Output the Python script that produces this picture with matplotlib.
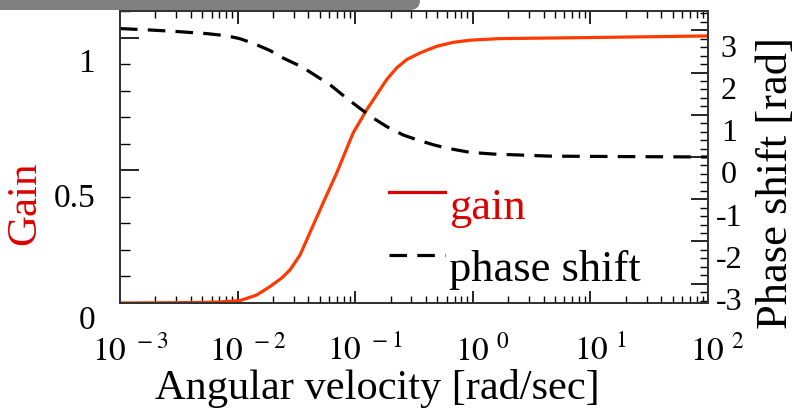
import numpy as np
import matplotlib.pyplot as plt
from matplotlib.lines import Line2D
from matplotlib.legend_handler import HandlerLine2D
from matplotlib.patches import FancyBboxPatch
from matplotlib.ticker import FixedLocator, MultipleLocator, LogLocator, NullFormatter
import matplotlib.transforms as mtransforms

plt.rcParams['font.family'] = ['Liberation Serif', 'DejaVu Serif']
plt.rcParams['mathtext.fontset'] = 'stix'

# angular velocity (log10 of rad/sec) and values
gain_logw = [-3.0, -2.6, -2.3, -2.15, -1.98, -1.838, -1.724, -1.625, -1.554, -1.469,
             -1.412, -1.356, -1.299, -1.229, -1.157, -1.087, -1.016, -0.902, -0.817,
             -0.732, -0.647, -0.562, -0.449, -0.307, -0.166, -0.024, 0.231, 1.0, 2.0]
gain = [0.000, 0.001, 0.002, 0.004, 0.009, 0.030, 0.062, 0.094, 0.125, 0.181,
        0.238, 0.294, 0.351, 0.420, 0.490, 0.566, 0.642, 0.728, 0.785,
        0.842, 0.886, 0.917, 0.942, 0.967, 0.982, 0.990, 0.996, 1.000, 1.006]

phase_logw = [-3.0, -2.77, -2.515, -2.26, -2.093, -1.98, -1.867, -1.724, -1.611,
              -1.497, -1.412, -1.299, -1.214, -1.072, -0.959, -0.846, -0.732, -0.591,
              -0.477, -0.336, -0.222, -0.024, 0.174, 0.66, 1.3, 2.0]
phase = [3.04, 3.01, 2.97, 2.92, 2.87, 2.80, 2.69, 2.52, 2.34,
         2.19, 2.06, 1.86, 1.71, 1.39, 1.15, 0.92, 0.72, 0.52,
         0.41, 0.29, 0.21, 0.11, 0.07, 0.02, 0.01, 0.0]

gain_ticks = [0, 0.5, 1]
gain_ticklabels = ['0', '0.5', '1']
phase_ticks = [-3, -2, -1, 0, 1, 2, 3]
x_decades = [-3, -2, -1, 0, 1, 2]

gain_w = 10.0 ** np.array(gain_logw)
phase_w = 10.0 ** np.array(phase_logw)


class RaisedLine(HandlerLine2D):
    # legend lines sit a bit above the text centre in the original
    def create_artists(self, legend, orig_handle, xdescent, ydescent, width,
                       height, fontsize, trans):
        arts = super().create_artists(legend, orig_handle, xdescent, ydescent,
                                      width, height, fontsize, trans)
        for a in arts:
            a.set_ydata(np.asarray(a.get_ydata()) + 8)
        return arts


fig = plt.figure(figsize=(7.94, 4.19), dpi=100)
ax = fig.add_axes([120 / 794, 116 / 419, 588 / 794, 292 / 419])
ax2 = ax.twinx()

gain_col = '#ff3a00'
ax.plot(gain_w, gain, color=gain_col, lw=2.3, zorder=3)
ax2.plot(phase_w, phase, color='black', lw=2.3, dashes=(5.5, 3.2))

ax.set_xscale('log')
ax.set_xlim(1e-3, 1e2)
ax.set_ylim(0, 1.1)
ax2.set_ylim(-1.1 * np.pi, 1.1 * np.pi)

for sp in ['left', 'right', 'top', 'bottom']:
    ax.spines[sp].set_linewidth(1.4)
    ax.spines[sp].set_color('#333333')
    ax2.spines[sp].set_linewidth(1.4)
    ax2.spines[sp].set_color('#333333')

dpi_tr = fig.dpi_scale_trans

# x ticks
ax.xaxis.set_major_locator(FixedLocator([10.0 ** d for d in x_decades]))
ax.xaxis.set_minor_locator(LogLocator(base=10, subs=np.arange(2, 10), numticks=20))
ax.xaxis.set_minor_formatter(NullFormatter())
ax.set_xticklabels([r'$10^{\;\,%d}$' % d for d in x_decades])
ax.tick_params(axis='x', which='major', direction='in', length=9, width=1.2,
               top=True, labelsize=24, pad=23)
ax.tick_params(axis='x', which='minor', direction='in', length=5, width=1.0, top=True)
for lab in ax.get_xticklabels():
    lab.set_transform(lab.get_transform() +
                      mtransforms.ScaledTranslation(7 / 72, 0, dpi_tr))

# left axis
ax.yaxis.set_major_locator(FixedLocator(gain_ticks))
ax.set_yticklabels(gain_ticklabels)
ax.yaxis.set_minor_locator(MultipleLocator(0.1))
ax.tick_params(axis='y', which='major', direction='in', length=14, width=1.2,
               labelsize=24, pad=18)
ax.tick_params(axis='y', which='minor', direction='in', length=7, width=1.0)
left_offsets = [10, 18, 16]
for lab, off in zip(ax.get_yticklabels(), left_offsets):
    lab.set_transform(lab.get_transform() +
                      mtransforms.ScaledTranslation(0, -off / 72, dpi_tr))

# right axis
ax2.yaxis.set_major_locator(FixedLocator(phase_ticks))
ax2.yaxis.set_minor_locator(MultipleLocator(0.2))
ax2.tick_params(axis='y', which='major', direction='in', length=12, width=1.2,
                labelsize=23, pad=15)
ax2.tick_params(axis='y', which='minor', direction='in', length=6, width=1.0)
ax2.set_yticklabels([str(t) for t in phase_ticks])
for lab in ax2.get_yticklabels():
    lab.set_horizontalalignment('center')
    lab.set_transform(lab.get_transform() +
                      mtransforms.ScaledTranslation(0, -11 / 72, dpi_tr))

ax.set_xlabel('Angular velocity [rad/sec]', fontsize=30.5)
ax.xaxis.set_label_coords(0.437, -0.225)
ax.set_ylabel('Gain', fontsize=31, color='#dd0000')
ax.yaxis.set_label_coords(-0.128, 0.34)
ax2.set_ylabel('Phase shift [rad]', fontsize=32)
ax2.yaxis.set_label_coords(1.082, 0.41)

handles = [Line2D([], [], color='#dd0000', lw=2.3),
           Line2D([], [], color='black', lw=2.3, dashes=(5.5, 3.2))]
ax2.legend(handles, ['gain', 'phase shift'], loc='upper left',
           bbox_to_anchor=(0.42, 0.47), frameon=False, fontsize=32,
           handlelength=1.25, handletextpad=0.1, labelspacing=0.5,
           borderpad=0, labelcolor=['#dd0000', 'black'],
           handler_map={Line2D: RaisedLine()})

# grey bar at top left of the screenshot
bar = FancyBboxPatch((-0.3, 4.09), 4.5, 0.4, boxstyle='round,pad=0,rounding_size=0.1',
                     transform=dpi_tr, facecolor='#808080',
                     edgecolor='none', zorder=10)
fig.patches.append(bar)

plt.savefig('out.png', dpi=100)
